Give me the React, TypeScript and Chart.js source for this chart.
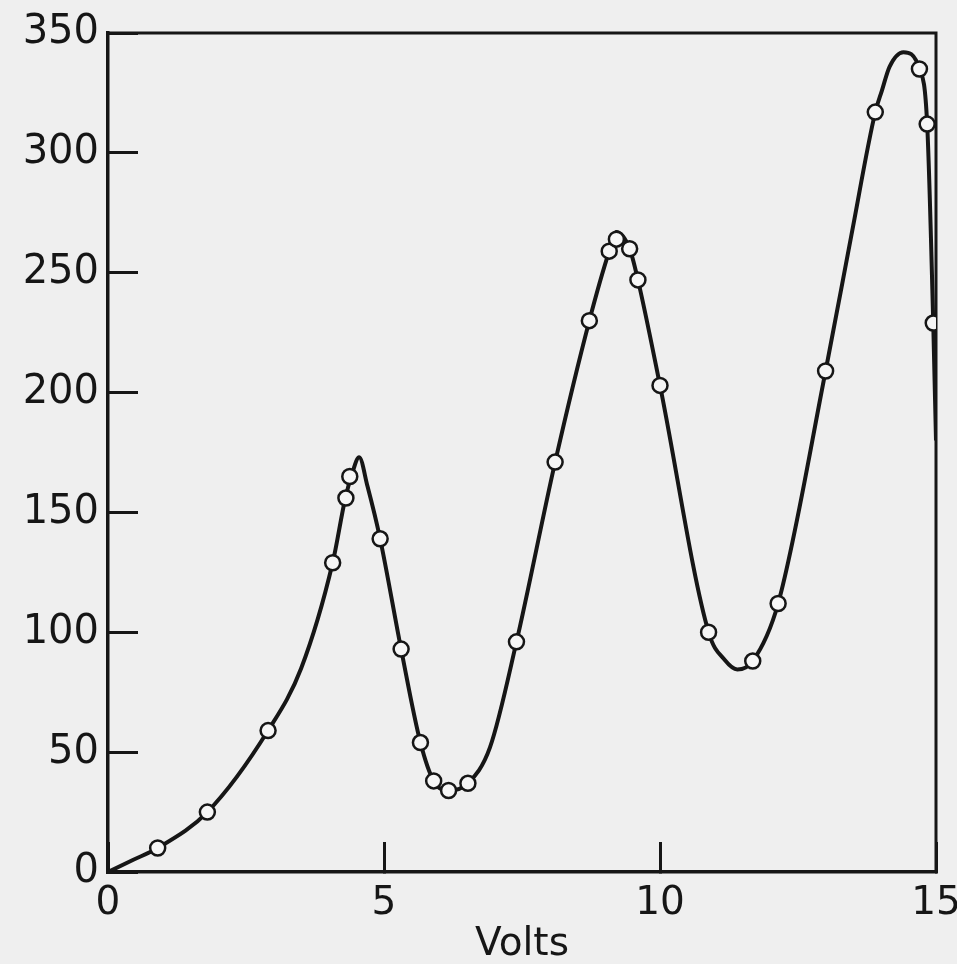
import { useEffect, useRef } from "react";
import { Chart, registerables } from "chart.js";

Chart.register(...registerables);

// Measured points (open circles): volts vs current
const pointVolts = [0.9, 1.8, 2.9, 4.07, 4.31, 4.38, 4.93, 5.31, 5.66, 5.9, 6.17, 6.52, 7.4, 8.1, 8.72, 9.08, 9.21, 9.45, 9.6, 10.0, 10.88, 11.68, 12.14, 13.0, 13.9, 14.7, 14.84, 14.95];
const pointCurrent = [10, 25, 59, 129, 156, 165, 139, 93, 54, 38, 34, 37, 96, 171, 230, 259, 264, 260, 247, 203, 100, 88, 112, 209, 317, 335, 312, 229];

// Smooth drawn curve
const curveVolts = [0, 0.45, 0.9, 1.8, 2.9, 3.5, 4.07, 4.3, 4.42, 4.55, 4.7, 4.93, 5.31, 5.66, 5.9, 6.17, 6.52, 6.92, 7.4, 8.1, 8.72, 9.08, 9.21, 9.45, 9.6, 10.0, 10.88, 11.17, 11.4, 11.68, 12.14, 13.0, 13.47, 13.9, 14.02, 14.16, 14.41, 14.7, 14.84, 14.95, 15];
const curveCurrent = [0, 5, 10, 25, 59, 85, 129, 156, 166, 173, 161, 139, 93, 54, 38, 34, 37, 52, 96, 171, 230, 259, 267, 260, 247, 203, 100, 88.5, 84.5, 88, 112, 209, 266, 317, 326, 336, 342, 335, 312, 229, 180];

const xTicks = [0, 5, 10, 15];
const yTicks = [0, 50, 100, 150, 200, 250, 300, 350];
const xTitle = "Volts";

const FONT = "'DejaVu Sans', sans-serif";
const INK = "#161616";
const PAPER = "#efefef";

const paperPlugin = {
  id: "paper",
  beforeDraw(chart: any) {
    const { ctx, width, height } = chart;
    ctx.save();
    ctx.fillStyle = PAPER;
    ctx.fillRect(0, 0, width, height);
    ctx.restore();
  },
  beforeDatasetsDraw(chart: any) {
    const { ctx, chartArea } = chart;
    ctx.save();
    ctx.strokeStyle = INK;
    ctx.lineWidth = 3;
    ctx.beginPath();
    ctx.moveTo(chartArea.left, chartArea.top);
    ctx.lineTo(chartArea.right, chartArea.top);
    ctx.lineTo(chartArea.right, chartArea.bottom);
    ctx.stroke();
    ctx.restore();
  },
};

export default function App() {
  const ref = useRef<HTMLCanvasElement>(null);

  useEffect(() => {
    if (!ref.current) return;
    const chart = new Chart(ref.current, {
      type: "line",
      data: {
        datasets: [
          {
            label: "points",
            data: pointVolts.map((x, i) => ({ x, y: pointCurrent[i] })),
            showLine: false,
            pointStyle: "circle",
            pointRadius: 7.5,
            pointBorderWidth: 2.5,
            pointBorderColor: INK,
            pointBackgroundColor: "#f6f6f6",
            order: 0,
          },
          {
            label: "curve",
            data: curveVolts.map((x, i) => ({ x, y: curveCurrent[i] })),
            borderColor: INK,
            borderWidth: 4,
            pointRadius: 0,
            cubicInterpolationMode: "monotone",
            fill: false,
            order: 1,
          },
        ],
      },
      options: {
        animation: false,
        responsive: false,
        layout: { padding: { top: 33, right: 21, left: 0, bottom: 0 } },
        plugins: {
          legend: { display: false },
          tooltip: { enabled: false },
          title: { display: false },
        },
        scales: {
          x: {
            type: "linear",
            min: xTicks[0],
            max: xTicks[xTicks.length - 1],
            afterBuildTicks: (s: any) => {
              s.ticks = xTicks.map((v) => ({ value: v }));
            },
            ticks: {
              color: INK,
              font: { family: FONT, size: 39 },
              padding: 38,
              maxRotation: 0,
              autoSkip: false,
            },
            grid: {
              drawOnChartArea: false,
              drawTicks: true,
              tickLength: -30,
              tickWidth: 3,
              tickColor: INK,
            },
            border: { display: true, color: INK, width: 3.5 },
            title: {
              display: true,
              text: xTitle,
              color: INK,
              font: { family: FONT, size: 39, lineHeight: 1 },
              padding: 0,
            },
            afterFit: (s: any) => {
              s.height = 92;
              s.paddingLeft = 0;
              s.paddingRight = 0;
            },
          },
          y: {
            type: "linear",
            min: yTicks[0],
            max: yTicks[yTicks.length - 1],
            afterBuildTicks: (s: any) => {
              s.ticks = yTicks.map((v) => ({ value: v }));
            },
            ticks: {
              color: INK,
              font: { family: FONT, size: 40 },
              padding: 39,
              autoSkip: false,
            },
            grid: {
              drawOnChartArea: false,
              drawTicks: true,
              tickLength: -30,
              tickWidth: 3,
              tickColor: INK,
            },
            border: { display: true, color: INK, width: 3.5 },
            afterFit: (s: any) => {
              s.width = 108;
              s.paddingTop = 0;
              s.paddingBottom = 0;
            },
          },
        },
      } as any,
      plugins: [paperPlugin],
    });
    return () => chart.destroy();
  }, []);

  return (
    <div style={{ position: "fixed", left: 0, top: 0, width: 957, height: 964, background: PAPER }}>
      <canvas ref={ref} width={957} height={964} style={{ display: "block", width: 957, height: 964 }} />
    </div>
  );
}
